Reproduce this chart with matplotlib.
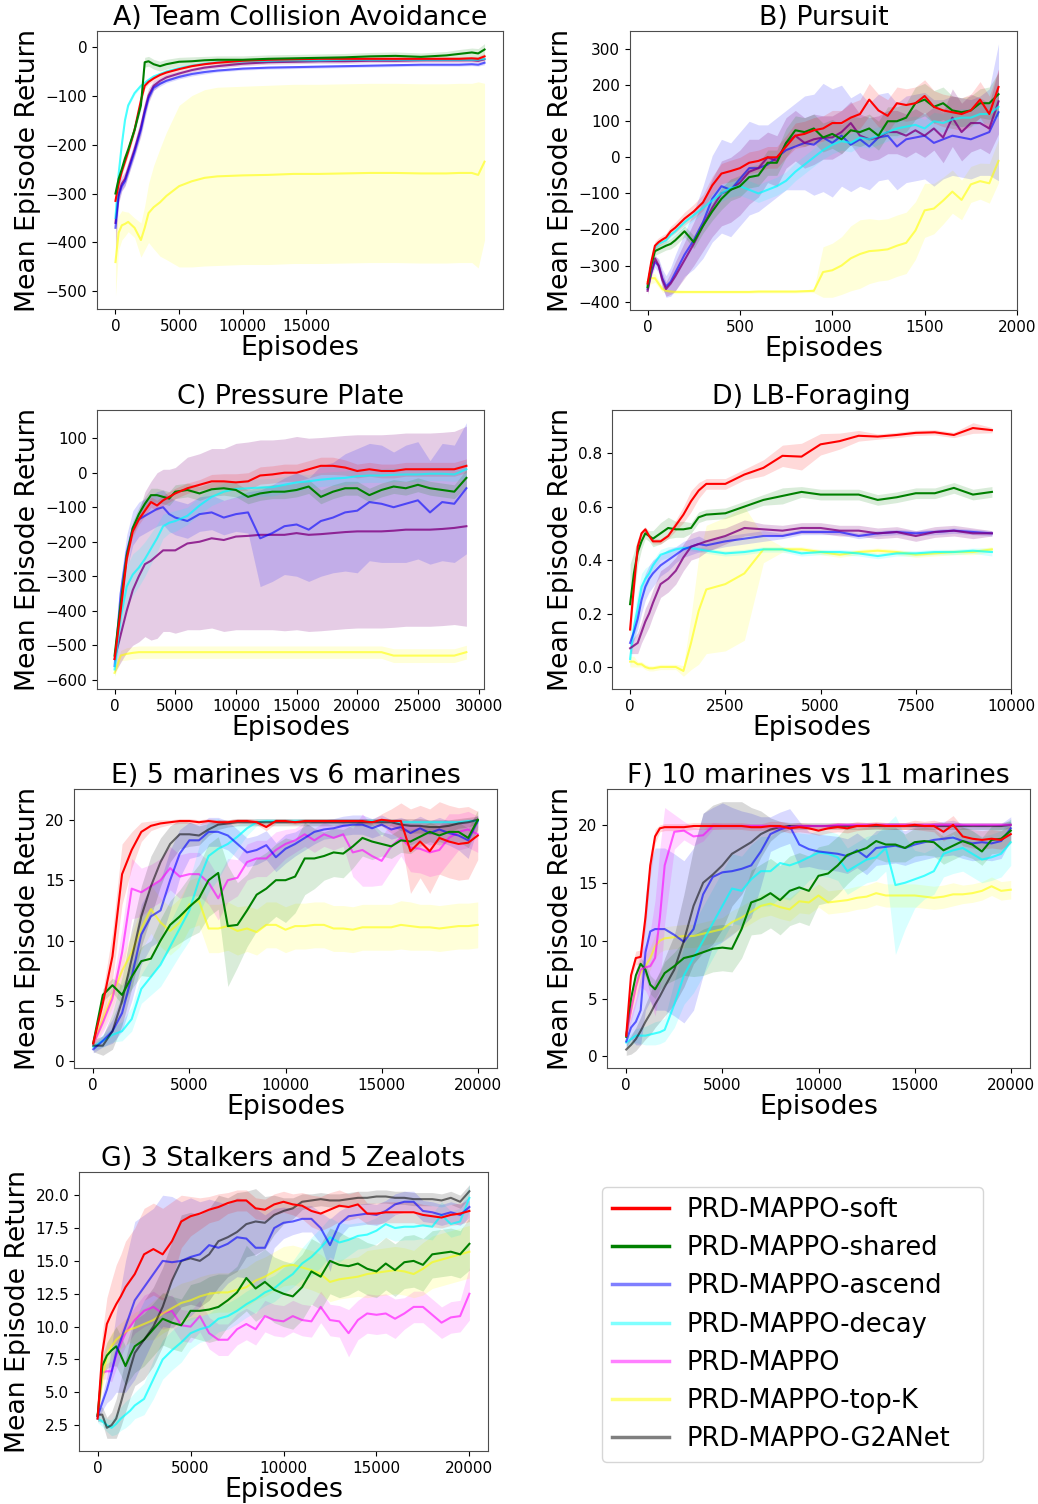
import numpy as np
import matplotlib
matplotlib.use('Agg')
import matplotlib.pyplot as plt
from matplotlib.lines import Line2D

W, H = 1038, 1504

# ---------------- Panel A: Team Collision Avoidance ----------------
A_x = [0, 250, 500, 750, 1000, 1500, 2000, 2300, 2600, 3000, 3500, 4000, 5000, 6000, 7000,
       8000, 10000, 12000, 14000, 16000, 18000, 20000, 22000, 24000, 26000, 27000, 28000, 28500, 29000]
A_soft = [-315, -280, -255, -235, -215, -170, -110, -80, -72, -65, -58, -53, -46, -40, -36,
          -33, -29, -27, -26, -25, -25, -25, -25, -25, -25, -25, -24, -25, -20]
A_soft_sd = [8, 8, 8, 8, 8, 8, 8, 6, 5, 5, 5, 5, 4, 4, 4, 4, 4, 4, 4, 4, 4, 4, 4, 4, 4, 4, 4, 5, 6]
A_shared = [-300, -270, -250, -228, -210, -170, -120, -32, -30, -36, -40, -36, -31, -30, -28,
            -27, -27, -25, -24, -23, -22, -20, -19, -21, -18, -15, -12, -14, -6]
A_shared_sd = [6, 6, 6, 6, 6, 6, 8, 10, 10, 10, 10, 10, 9, 9, 8, 8, 8, 8, 8, 8, 8, 8, 8, 8, 8, 9, 9, 10, 12]
A_ascend = [-370, -305, -285, -275, -255, -215, -170, -135, -105, -84, -76, -70, -62, -56, -52,
            -49, -45, -43, -42, -41, -40, -39, -38, -37, -37, -37, -36, -37, -33]
A_ascend_sd = [10, 10, 8, 8, 8, 8, 8, 6, 5, 5, 5, 4, 4, 4, 4, 3, 3, 3, 3, 3, 3, 3, 3, 3, 3, 3, 3, 3, 4]
A_decay = [-350, -260, -200, -150, -120, -95, -80, -74, -68, -61, -56, -51, -44, -39, -35,
           -32, -30, -29, -28, -28, -27, -27, -27, -27, -27, -27, -27, -27, -25]
A_decay_sd = [5, 5, 5, 5, 4, 4, 3, 3, 3, 3, 3, 3, 3, 2, 2, 2, 2, 2, 2, 2, 2, 2, 2, 2, 2, 2, 2, 2, 3]
A_prd = [-360, -300, -280, -270, -250, -210, -165, -130, -100, -80, -70, -63, -55, -48, -43,
         -40, -35, -32, -31, -30, -30, -29, -29, -28, -28, -28, -28, -29, -26]
A_prd_sd = [60, 20, 15, 15, 15, 15, 18, 18, 15, 10, 7, 6, 5, 4, 4, 4, 4, 4, 4, 4, 4, 4, 4, 4, 4, 4, 4, 4, 5]
A_topk = [-440, -380, -365, -362, -358, -370, -395, -370, -340, -328, -318, -305, -285, -275, -268,
          -265, -263, -262, -260, -260, -259, -258, -258, -259, -259, -258, -258, -262, -235]
A_topk_sd = [70, 35, 30, 25, 20, 20, 35, 45, 60, 85, 110, 130, 165, 175, 180,
             182, 182, 183, 183, 183, 183, 183, 183, 183, 183, 183, 183, 190, 160]
A_xticks = [0, 5000, 10000, 15000]

# ---------------- Panel B: Pursuit ----------------
B_x = [0, 20, 40, 60, 80, 100, 125, 150, 200, 250, 300, 350, 400, 450, 500, 550, 600, 650, 700,
       750, 800, 850, 900, 950, 1000, 1050, 1100, 1150, 1200, 1250, 1300, 1350, 1400, 1450, 1500,
       1550, 1600, 1650, 1700, 1750, 1800, 1850, 1900]
B_soft = [-350, -290, -245, -235, -228, -222, -205, -195, -170, -150, -125, -78, -45, -38, -30, -15, -10, 0,
          0, 30, 60, 65, 75, 80, 95, 95, 110, 120, 160, 130, 115, 150, 145, 150, 170, 140, 130, 125,
          120, 130, 160, 120, 195]
B_soft_sd = [10, 10, 12, 12, 12, 12, 14, 15, 18, 20, 22, 25, 28, 30, 30, 30, 30, 30,
             30, 30, 35, 35, 35, 35, 35, 35, 40, 40, 45, 45, 45, 45, 45, 45, 45, 45, 45, 45,
             45, 45, 50, 50, 50]
B_shared = [-360, -300, -260, -255, -250, -245, -240, -230, -205, -235, -190, -150, -115, -90, -80, -55, -50, -15,
            -15, 40, 75, 70, 80, 55, 65, 50, 75, 70, 80, 60, 100, 100, 110, 150, 160, 140, 150, 130,
            125, 130, 150, 150, 175]
B_shared_sd = [10, 10, 12, 12, 12, 12, 14, 15, 15, 18, 20, 25, 30, 30, 30, 30, 30, 35,
               35, 40, 40, 40, 40, 40, 40, 40, 40, 40, 40, 40, 40, 40, 40, 45, 45, 45, 45, 40,
               40, 40, 40, 45, 60]
B_decay = [-355, -300, -250, -240, -235, -230, -215, -205, -180, -160, -140, -120, -100, -85, -80, -90, -100, -90,
           -80, -65, -40, -20, 0, 20, 35, 45, 40, 55, 50, 60, 70, 80, 85, 90, 80, 100, 95, 105,
           110, 110, 120, 120, 140]
B_decay_sd = [10, 10, 10, 10, 10, 10, 12, 12, 15, 15, 18, 20, 22, 25, 25, 25, 25, 25,
              25, 25, 25, 25, 25, 25, 25, 25, 25, 25, 25, 25, 25, 25, 25, 25, 25, 25, 25, 25,
              25, 25, 25, 25, 30]
B_ascend = [-365, -320, -290, -300, -335, -358, -345, -320, -270, -230, -180, -115, -80, -90, -60, -30, -30, -20,
            0, 20, 30, 40, 35, 55, 40, 60, 35, 50, 30, 55, 60, 30, 50, 55, 60, 40, 50, 60,
            55, 50, 60, 70, 125]
B_ascend_sd = [10, 10, 15, 20, 25, 30, 40, 50, 60, 80, 100, 120, 130, 130, 130, 130, 120, 110,
               110, 110, 120, 130, 140, 150, 150, 140, 130, 130, 120, 120, 120, 120, 120, 120, 120, 120, 110, 110,
               110, 110, 110, 120, 190]
B_prd = [-370, -320, -280, -300, -340, -365, -350, -330, -285, -240, -190, -140, -100, -90, -70, -40, -30, 0,
         -10, 40, 60, 40, 50, 55, 55, 70, 95, 60, 50, 55, 70, 70, 60, 75, 60, 80, 55, 110,
         70, 95, 95, 80, 155]
B_prd_sd = [10, 10, 10, 15, 20, 20, 30, 40, 50, 60, 70, 80, 90, 90, 90, 90, 80, 70,
            70, 70, 70, 70, 70, 60, 60, 60, 60, 60, 60, 60, 60, 60, 60, 60, 60, 60, 70, 80,
            80, 80, 70, 70, 90]
B_topk = [-345, -335, -335, -350, -365, -370, -372, -373, -373, -373, -373, -373, -373, -373, -373, -373, -372, -372,
          -372, -372, -372, -371, -370, -318, -313, -300, -280, -268, -260, -258, -255, -245, -237, -203, -147, -142,
          -120, -95, -118, -75, -66, -72, -10]
B_topk_sd = [15, 15, 12, 10, 8, 6, 5, 5, 4, 4, 4, 4, 4, 4, 4, 4, 4, 4,
             4, 4, 4, 4, 5, 70, 75, 80, 90, 95, 90, 85, 85, 85, 85, 80, 75, 70, 65, 60,
             55, 50, 50, 55, 60]
B_xlim = (-95, 2000)

# ---------------- Panel C: Pressure Plate ----------------
C_x = [0, 500, 1000, 1500, 2000, 2500, 3000, 3500, 4000, 4500, 5000, 6000, 7000, 8000, 9000, 10000,
       11000, 12000, 13000, 14000, 15000, 16000, 17000, 18000, 19000, 20000, 21000, 22000, 23000,
       24000, 25000, 26000, 27000, 28000, 29000]
C_soft = [-540, -400, -250, -170, -135, -110, -85, -95, -80, -70, -60, -45, -35, -25, -25, -28,
          -25, -8, -5, 0, 0, 10, 20, 20, 15, 5, 10, 5, 5, 10, 10, 10, 10, 10, 20]
C_soft_sd = [20, 20, 20, 15, 15, 15, 15, 15, 15, 15, 15, 15, 15, 20, 22, 25,
             25, 25, 25, 25, 25, 25, 25, 25, 22, 20, 20, 20, 20, 20, 20, 20, 20, 20, 20]
C_shared = [-530, -380, -240, -160, -120, -90, -65, -65, -70, -75, -55, -50, -60, -48, -45, -50,
            -70, -60, -55, -55, -50, -40, -70, -55, -45, -45, -65, -50, -40, -45, -35, -45, -50, -55, -15]
C_shared_sd = [20, 20, 20, 20, 20, 20, 20, 20, 20, 20, 20, 20, 20, 20, 20, 20,
               20, 20, 20, 20, 20, 20, 20, 20, 20, 20, 20, 20, 20, 20, 20, 20, 20, 20, 25]
C_decay = [-570, -420, -330, -295, -275, -250, -220, -190, -155, -145, -140, -125, -95, -70, -55, -47,
           -45, -43, -42, -35, -28, -25, -20, -17, -15, -10, -8, -8, -6, -5, -5, -3, -3, -5, 10]
C_decay_sd = [20, 50, 60, 60, 55, 50, 45, 40, 35, 30, 30, 25, 25, 25, 25, 25,
              25, 25, 25, 25, 25, 20, 20, 20, 20, 20, 20, 20, 20, 20, 20, 20, 20, 20, 25]
C_ascend = [-560, -350, -230, -160, -135, -125, -115, -105, -100, -120, -130, -140, -120, -115, -130, -120,
            -115, -190, -175, -155, -150, -165, -140, -130, -115, -110, -85, -90, -100, -90, -80, -115, -85, -90, -45]
C_ascend_sd = [20, 40, 50, 50, 50, 50, 50, 50, 50, 50, 50, 50, 50, 50, 50, 50,
               60, 140, 140, 140, 150, 150, 160, 160, 170, 180, 170, 170, 160, 170, 170, 150, 170, 170, 190]
C_prd = [-540, -470, -400, -340, -300, -265, -255, -240, -225, -225, -225, -205, -200, -190, -195, -185,
         -183, -180, -180, -180, -175, -180, -178, -175, -172, -170, -170, -170, -168, -165, -165, -165, -163, -160, -155]
C_prd_sd = [40, 80, 120, 160, 190, 210, 230, 240, 235, 235, 240, 250, 255, 260, 265, 270,
            272, 275, 275, 278, 280, 280, 280, 280, 280, 280, 280, 280, 280, 280, 280, 280, 280, 280, 290]
C_topk = [-580, -530, -525, -522, -520, -520, -520, -520, -520, -520, -520, -520, -520, -520, -520, -520,
          -520, -520, -520, -520, -520, -520, -520, -520, -520, -520, -520, -520, -530, -530, -530, -530, -530, -530, -520]
C_topk_sd = [10, 15, 18, 18, 18, 18, 18, 18, 18, 18, 18, 18, 18, 18, 18, 18,
             18, 18, 18, 18, 18, 18, 18, 18, 18, 18, 18, 18, 20, 20, 20, 20, 20, 20, 20]

# ---------------- Panel D: LB-Foraging ----------------
D_x = [0, 100, 200, 300, 400, 500, 600, 800, 1000, 1200, 1400, 1600, 1800, 2000, 2500, 3000, 3500,
       4000, 4500, 5000, 5500, 6000, 6500, 7000, 7500, 8000, 8500, 9000, 9500]
D_soft = [0.14, 0.30, 0.45, 0.50, 0.515, 0.49, 0.47, 0.47, 0.49, 0.53, 0.57, 0.62, 0.66, 0.685,
          0.685, 0.72, 0.745, 0.79, 0.787, 0.833, 0.845, 0.865, 0.862, 0.868, 0.876, 0.878, 0.868, 0.894, 0.886]
D_soft_sd = [0.01, 0.01, 0.01, 0.01, 0.01, 0.01, 0.01, 0.01, 0.01, 0.02, 0.03, 0.04, 0.03, 0.02,
             0.02, 0.02, 0.03, 0.04, 0.05, 0.04, 0.03, 0.02, 0.01, 0.01, 0.01, 0.01, 0.01, 0.02, 0.01]
D_shared = [0.235, 0.35, 0.43, 0.47, 0.50, 0.49, 0.48, 0.50, 0.52, 0.515, 0.515, 0.52, 0.56, 0.57,
            0.575, 0.60, 0.625, 0.64, 0.655, 0.645, 0.645, 0.645, 0.625, 0.635, 0.65, 0.65, 0.67, 0.645, 0.655]
D_shared_sd = [0.15, 0.08, 0.05, 0.03, 0.02, 0.02, 0.03, 0.04, 0.04, 0.03, 0.03, 0.02, 0.02, 0.02,
               0.02, 0.02, 0.02, 0.03, 0.02, 0.02, 0.02, 0.02, 0.02, 0.02, 0.02, 0.02, 0.02, 0.02, 0.02]
D_ascend = [0.09, 0.13, 0.18, 0.25, 0.30, 0.33, 0.35, 0.38, 0.40, 0.42, 0.44, 0.45, 0.46, 0.455,
            0.47, 0.48, 0.49, 0.49, 0.505, 0.505, 0.505, 0.49, 0.50, 0.505, 0.50, 0.505, 0.51, 0.505, 0.50]
D_ascend_sd = [0.02, 0.03, 0.04, 0.05, 0.05, 0.05, 0.05, 0.04, 0.04, 0.03, 0.03, 0.03, 0.03, 0.02,
               0.02, 0.02, 0.02, 0.01, 0.01, 0.01, 0.01, 0.01, 0.01, 0.01, 0.01, 0.01, 0.01, 0.01, 0.01]
D_prd = [0.07, 0.08, 0.09, 0.13, 0.17, 0.20, 0.24, 0.31, 0.33, 0.36, 0.41, 0.45, 0.46, 0.47,
         0.49, 0.52, 0.515, 0.51, 0.52, 0.52, 0.51, 0.51, 0.50, 0.505, 0.49, 0.505, 0.51, 0.50, 0.50]
D_prd_sd = [0.02, 0.03, 0.04, 0.04, 0.05, 0.05, 0.05, 0.05, 0.05, 0.05, 0.05, 0.05, 0.05, 0.04,
            0.03, 0.03, 0.02, 0.02, 0.02, 0.02, 0.02, 0.02, 0.02, 0.02, 0.02, 0.02, 0.02, 0.02, 0.01]
D_decay = [0.03, 0.15, 0.22, 0.30, 0.33, 0.35, 0.38, 0.42, 0.43, 0.44, 0.445, 0.445, 0.44, 0.435,
           0.425, 0.43, 0.44, 0.44, 0.425, 0.43, 0.43, 0.425, 0.415, 0.425, 0.425, 0.43, 0.43, 0.435, 0.43]
D_decay_sd = [0.03, 0.05, 0.06, 0.05, 0.04, 0.03, 0.02, 0.02, 0.02, 0.01, 0.01, 0.01, 0.01, 0.01,
              0.01, 0.01, 0.01, 0.01, 0.01, 0.01, 0.01, 0.01, 0.01, 0.01, 0.01, 0.01, 0.01, 0.01, 0.015]
D_topk = [0.02, 0.02, 0.01, 0.01, 0.0, -0.005, -0.005, 0.0, 0.0, 0.0, -0.015, 0.09, 0.21, 0.29,
          0.31, 0.35, 0.44, 0.44, 0.44, 0.43, 0.42, 0.43, 0.435, 0.43, 0.42, 0.425, 0.43, 0.43, 0.44]
D_topk_sd = [0.02, 0.02, 0.01, 0.01, 0.01, 0.01, 0.01, 0.01, 0.01, 0.01, 0.02, 0.10, 0.20, 0.24,
             0.25, 0.25, 0.05, 0.01, 0.01, 0.01, 0.01, 0.01, 0.01, 0.01, 0.01, 0.01, 0.01, 0.01, 0.01]
D_xticks = [0, 2500, 5000, 7500, 10000]
D_xlim = (-475, 10000)

# ---------------- Panel E: 5 marines vs 6 marines ----------------
E_x = [0, 500, 1000, 1500, 2000, 2500, 3000, 3500, 4000, 4500, 5000, 5500, 6000, 6500, 7000, 7500,
       8000, 8500, 9000, 9500, 10000, 10500, 11000, 11500, 12000, 12500, 13000, 13500, 14000, 14500,
       15000, 15500, 16000, 16500, 17000, 17500, 18000, 18500, 19000, 19500, 20000]
E_soft = [1.5, 4.8, 8.7, 15.5, 17.5, 19.0, 19.5, 19.7, 19.8, 19.9,
          19.9, 19.8, 19.9, 19.8, 19.8, 19.9, 19.9, 19.8, 19.4, 19.9,
          19.9, 19.8, 19.9, 19.9, 19.9, 19.9, 19.9, 19.9, 19.9, 19.8,
          20.0, 19.9, 19.9, 17.4, 18.2, 17.4, 18.5, 18.2, 18.0, 18.1, 18.7]
E_soft_sd = [0.3, 1.0, 2.0, 2.5, 1.5, 0.8, 0.4, 0.3, 0.2, 0.2,
             0.2, 0.2, 0.2, 0.2, 0.2, 0.2, 0.2, 0.2, 0.3, 0.2,
             0.2, 0.2, 0.2, 0.2, 0.2, 0.2, 0.2, 0.2, 0.2, 0.2,
             0.5, 1.0, 1.5, 3.5, 3.0, 3.5, 3.0, 3.0, 3.0, 3.0, 2.0]
E_shared = [1.5, 5.5, 6.3, 5.5, 7.0, 8.3, 8.5, 10.0, 11.3, 12.0,
            12.8, 13.5, 15.0, 15.6, 11.2, 11.3, 12.5, 13.8, 14.3, 15.0,
            15.0, 15.3, 16.8, 16.8, 17.0, 17.3, 17.2, 17.8, 18.5, 18.2,
            18.0, 17.8, 18.3, 18.2, 18.6, 19.0, 18.7, 19.0, 19.0, 18.5, 20.0]
E_shared_sd = [0.3, 0.5, 0.6, 0.8, 1.0, 1.2, 1.5, 1.8, 2.0, 2.2,
               2.5, 2.8, 3.0, 3.0, 5.0, 3.5, 3.0, 3.0, 3.0, 3.0,
               3.5, 3.0, 3.0, 2.5, 2.0, 2.0, 2.0, 1.8, 1.5, 1.5,
               1.0, 1.0, 1.0, 1.0, 0.8, 0.8, 0.8, 0.8, 0.8, 0.8, 0.8]
E_ascend = [1.0, 1.7, 2.5, 4.0, 7.0, 10.5, 12.0, 12.5, 15.0, 17.2,
            18.3, 18.3, 19.0, 19.0, 18.7, 18.0, 17.3, 17.5, 17.9, 16.9,
            17.6, 18.0, 18.5, 19.0, 19.2, 19.3, 19.5, 19.6, 19.6, 19.3,
            19.6, 19.2, 19.4, 18.9, 19.3, 18.9, 19.2, 18.9, 18.7, 18.3, 19.9]
E_ascend_sd = [0.3, 0.5, 1.0, 1.5, 2.0, 2.5, 2.5, 2.5, 2.5, 2.0,
               1.5, 1.3, 1.2, 1.2, 1.2, 1.2, 1.2, 1.2, 1.2, 1.2,
               1.2, 1.0, 1.0, 1.0, 0.8, 0.8, 0.8, 0.8, 0.8, 0.8,
               0.8, 0.8, 0.8, 1.0, 1.0, 1.0, 1.0, 1.0, 1.2, 1.5, 0.5]
E_decay = [1.2, 1.7, 2.2, 2.5, 3.5, 6.0, 7.0, 8.0, 9.5, 11.0,
           12.5, 15.0, 17.0, 17.6, 18.0, 18.6, 19.3, 19.8, 19.9, 19.9,
           19.9, 19.9, 19.9, 19.9, 19.9, 19.9, 19.9, 19.9, 19.9, 19.9,
           19.9, 19.9, 19.8, 19.8, 19.8, 19.8, 19.8, 19.8, 19.8, 19.9, 19.9]
E_decay_sd = [0.3, 0.5, 0.6, 0.8, 1.0, 1.2, 1.5, 1.8, 2.0, 2.2,
              2.5, 2.8, 3.0, 2.5, 1.5, 1.0, 0.6, 0.3, 0.2, 0.2,
              0.2, 0.2, 0.2, 0.2, 0.2, 0.2, 0.2, 0.2, 0.2, 0.2,
              0.2, 0.2, 0.2, 0.2, 0.2, 0.2, 0.2, 0.2, 0.2, 0.2, 0.2]
E_prd = [1.4, 3.2, 5.2, 9.0, 14.3, 14.0, 14.5, 15.0, 16.0, 15.3,
         15.5, 15.5, 14.8, 13.5, 15.0, 15.2, 16.5, 16.8, 16.8, 17.5,
         18.0, 18.3, 18.8, 18.3, 18.8, 18.5, 18.8, 17.3, 17.5, 17.0,
         16.6, 17.8, 18.5, 17.7, 17.6, 17.3, 17.5, 18.5, 19.0, 19.2, 18.8]
E_prd_sd = [0.3, 0.8, 1.2, 2.0, 2.5, 2.0, 1.8, 1.8, 1.8, 1.8,
            1.8, 1.8, 1.8, 1.8, 1.8, 1.5, 1.5, 1.5, 1.5, 1.5,
            1.2, 1.0, 1.0, 1.0, 1.0, 1.0, 1.0, 2.0, 3.0, 2.5,
            2.0, 2.0, 1.5, 2.0, 2.0, 2.0, 2.0, 2.0, 1.5, 1.5, 1.5]
E_topk = [1.4, 3.5, 5.5, 7.5, 9.0, 11.0, 12.6, 11.5, 10.8, 11.5,
          13.0, 13.3, 11.0, 11.0, 11.2, 10.8, 11.0, 10.7, 11.3, 11.3,
          10.9, 11.2, 11.2, 11.3, 11.3, 11.0, 11.0, 10.9, 11.1, 11.1,
          11.1, 11.1, 11.3, 11.2, 11.1, 11.1, 11.0, 11.1, 11.2, 11.2, 11.3]
E_topk_sd = [0.3, 0.8, 1.0, 1.2, 1.5, 1.8, 2.0, 2.0, 2.0, 2.0,
             2.0, 2.0, 2.0, 2.0, 2.0, 2.0, 1.9, 1.9, 1.9, 1.9,
             1.9, 1.9, 1.9, 1.9, 1.9, 1.9, 1.9, 1.9, 1.9, 1.9,
             1.9, 1.9, 2.0, 2.0, 1.9, 1.9, 1.9, 1.9, 1.9, 1.9, 1.9]
E_g2a = [1.3, 1.3, 2.5, 5.0, 8.5, 12.0, 14.5, 16.5, 18.0, 18.8,
         18.8, 18.7, 19.2, 19.6, 19.7, 19.8, 19.8, 19.8, 19.8, 19.8,
         19.8, 19.8, 19.8, 19.8, 19.8, 19.8, 19.8, 19.8, 19.8, 19.8,
         19.8, 19.8, 19.6, 19.5, 19.5, 19.4, 19.4, 19.5, 19.7, 19.8, 20.0]
E_g2a_sd = [0.5, 0.8, 1.5, 2.0, 2.5, 2.5, 2.5, 2.0, 1.5, 1.2,
            1.0, 0.8, 0.5, 0.4, 0.3, 0.3, 0.3, 0.3, 0.3, 0.3,
            0.3, 0.3, 0.3, 0.3, 0.3, 0.3, 0.3, 0.3, 0.3, 0.3,
            0.3, 0.3, 0.5, 0.6, 0.6, 0.6, 0.6, 0.5, 0.4, 0.4, 0.3]
SMAC_xticks = [0, 5000, 10000, 15000, 20000]

# ---------------- Panel F: 10 marines vs 11 marines ----------------
F_x = [0, 250, 500, 750, 1000, 1250, 1500, 1750, 2000, 2500, 3000, 3500, 4000, 4500, 5000, 5500,
       6000, 6500, 7000, 7500, 8000, 8500, 9000, 9500, 10000, 10500, 11000, 11500, 12000, 12500,
       13000, 13500, 14000, 14500, 15000, 15500, 16000, 16500, 17000, 17500, 18000, 18500, 19000,
       19500, 20000]
F_soft = [1.8, 7.0, 8.5, 8.6, 12.0, 16.5, 19.0, 19.7, 19.8,
          19.8, 19.8, 19.9, 19.9, 19.9, 19.9, 19.9, 19.9, 19.8, 19.8,
          19.9, 19.9, 19.7, 19.8, 19.7, 19.5, 19.7, 19.8, 19.7, 19.9,
          19.9, 20.0, 19.9, 19.9, 19.9, 20.0, 19.9, 19.9, 19.4, 20.0,
          19.0, 18.8, 18.7, 18.8, 18.7, 19.2]
F_soft_sd = [0.3, 0.5, 0.6, 0.6, 1.0, 1.0, 0.6, 0.3, 0.3,
             0.3, 0.3, 0.3, 0.3, 0.3, 0.3, 0.3, 0.3, 0.3, 0.3,
             0.4, 0.4, 0.4, 0.4, 0.4, 0.4, 0.4, 0.4, 0.4, 0.4,
             0.3, 0.3, 0.3, 0.3, 0.3, 0.4, 0.4, 0.5, 0.8, 0.8,
             0.8, 0.8, 0.8, 0.8, 0.8, 0.8]
F_prd = [1.8, 4.0, 6.0, 7.5, 7.7, 7.8, 8.5, 12.0, 16.5,
         19.4, 19.5, 19.0, 19.1, 19.9, 19.9, 19.9, 19.9, 19.9, 19.9,
         19.9, 19.8, 19.8, 19.9, 19.9, 19.9, 19.9, 20.0, 20.0, 20.0,
         20.0, 20.0, 20.0, 20.0, 20.0, 20.0, 20.0, 20.0, 20.0, 20.0,
         20.0, 20.0, 20.0, 20.0, 20.0, 20.0]
F_prd_sd = [0.3, 1.0, 1.5, 1.5, 2.0, 3.0, 5.0, 6.0, 5.0,
            1.5, 0.8, 0.8, 0.5, 0.3, 0.2, 0.2, 0.2, 0.2, 0.2,
            0.2, 0.2, 0.2, 0.2, 0.2, 0.2, 0.2, 0.2, 0.2, 0.2,
            0.2, 0.2, 0.2, 0.2, 0.2, 0.2, 0.2, 0.2, 0.2, 0.2,
            0.2, 0.2, 0.2, 0.2, 0.2, 0.2]
F_shared = [1.7, 5.0, 7.0, 8.0, 7.5, 6.2, 5.8, 6.5, 7.2,
            7.8, 8.5, 8.7, 9.0, 9.3, 9.4, 9.3, 11.0, 13.3, 13.6,
            14.1, 13.5, 14.3, 14.6, 14.3, 15.6, 15.8, 16.5, 17.4, 17.7,
            18.0, 18.6, 18.3, 18.3, 18.0, 18.5, 18.6, 18.5, 17.8, 18.2,
            18.6, 18.3, 17.7, 18.7, 18.8, 19.5]
F_shared_sd = [0.3, 0.5, 0.5, 0.5, 0.6, 0.8, 0.8, 0.8, 1.0,
               1.2, 1.5, 1.8, 2.0, 2.0, 2.0, 2.0, 2.5, 2.8, 3.0,
               3.0, 3.0, 3.0, 3.0, 3.0, 2.5, 2.5, 2.5, 2.5, 2.0,
               1.8, 1.5, 1.5, 1.5, 1.2, 1.2, 1.2, 1.2, 1.2, 1.2,
               1.2, 1.2, 1.2, 1.2, 1.2, 1.0]
F_ascend = [1.3, 2.5, 3.0, 4.0, 9.0, 10.8, 11.0, 11.0, 11.0,
            10.5, 9.9, 11.0, 14.0, 15.5, 15.9, 16.0, 16.2, 16.5, 17.7,
            19.2, 19.6, 19.9, 18.3, 17.9, 17.7, 17.6, 17.5, 17.3, 17.8,
            17.2, 18.0, 18.1, 18.2, 18.0, 18.3, 18.5, 18.7, 18.8, 18.9,
            18.6, 18.4, 18.5, 18.4, 18.6, 19.7]
F_ascend_sd = [0.5, 1.0, 2.0, 3.0, 5.0, 6.0, 7.0, 7.0, 7.0,
               7.0, 7.0, 7.0, 7.0, 6.0, 6.0, 5.5, 5.0, 4.5, 3.0,
               1.5, 1.5, 1.5, 2.0, 1.5, 1.5, 1.5, 1.5, 1.5, 1.5,
               1.5, 1.5, 1.5, 1.5, 1.5, 1.5, 1.5, 1.5, 1.5, 1.5,
               1.5, 1.5, 1.5, 1.5, 1.5, 1.0]
F_g2a = [0.6, 1.0, 1.5, 2.2, 3.0, 3.7, 4.5, 5.2, 6.0,
         7.5, 10.0, 13.0, 15.0, 15.7, 16.5, 17.5, 18.0, 18.5, 19.2,
         19.6, 19.8, 19.9, 19.9, 19.9, 19.9, 19.9, 19.9, 19.9, 19.9,
         19.9, 19.9, 19.9, 19.9, 19.9, 19.9, 19.9, 19.9, 19.9, 19.9,
         19.9, 19.9, 19.9, 19.9, 19.9, 20.0]
F_g2a_sd = [0.5, 0.8, 1.0, 1.2, 1.5, 1.8, 2.0, 2.2, 2.5,
            3.0, 4.0, 5.0, 6.0, 6.0, 5.5, 4.5, 4.0, 3.0, 2.0,
            1.0, 0.5, 0.3, 0.3, 0.3, 0.3, 0.3, 0.3, 0.3, 0.3,
            0.3, 0.3, 0.3, 0.3, 0.3, 0.3, 0.3, 0.3, 0.3, 0.3,
            0.3, 0.3, 0.3, 0.3, 0.3, 0.3]
F_decay = [1.2, 1.5, 1.8, 1.8, 1.8, 1.9, 2.0, 2.1, 2.3,
           4.5, 7.0, 8.5, 10.0, 11.5, 13.0, 14.5, 14.3, 15.3, 16.0,
           16.0, 16.7, 16.5, 16.8, 17.2, 17.6, 17.5, 17.2, 16.0, 16.5,
           17.0, 17.2, 18.0, 14.8, 15.0, 15.3, 15.6, 16.0, 17.5, 17.8,
           18.0, 17.5, 17.0, 17.2, 17.5, 18.5]
F_decay_sd = [0.3, 0.5, 0.6, 0.7, 0.8, 0.9, 1.0, 1.0, 1.0,
              2.0, 2.5, 3.0, 3.0, 3.0, 3.0, 3.0, 3.0, 3.0, 3.0,
              3.0, 3.0, 3.0, 2.5, 2.0, 2.0, 2.0, 2.0, 2.0, 2.0,
              2.0, 2.0, 2.0, 6.0, 4.0, 2.5, 2.0, 2.0, 2.0, 2.0,
              2.0, 2.0, 2.0, 2.0, 2.0, 2.0]
F_topk = [1.8, 4.0, 6.0, 7.2, 7.8, 8.5, 9.5, 10.0, 10.2,
          10.3, 10.4, 10.4, 10.6, 10.8, 11.0, 11.6, 12.0, 12.5, 13.0,
          13.2, 12.9, 12.7, 13.4, 13.3, 13.9, 13.3, 13.4, 13.5, 13.7,
          13.8, 14.1, 13.9, 13.9, 13.9, 13.9, 13.8, 13.7, 13.8, 14.0,
          14.0, 14.1, 14.3, 14.7, 14.3, 14.4]
F_topk_sd = [0.3, 0.5, 0.8, 1.0, 1.0, 1.0, 1.0, 1.0, 1.0,
             1.0, 1.0, 1.0, 1.0, 1.0, 1.0, 1.0, 1.0, 1.0, 1.0,
             1.0, 1.0, 1.0, 1.0, 1.0, 1.0, 1.0, 1.0, 1.0, 1.0,
             1.0, 1.0, 1.0, 1.0, 1.0, 1.0, 1.0, 1.0, 1.0, 1.0,
             0.8, 0.8, 0.8, 0.8, 0.8, 0.8]

# ---------------- Panel G: 3 Stalkers and 5 Zealots ----------------
G_x = F_x
G_soft = [3.0, 8.0, 10.2, 11.0, 11.7, 12.3, 13.0, 13.5, 14.0,
          15.5, 15.9, 15.5, 16.5, 18.0, 18.4, 18.6, 18.9, 19.1, 19.4,
          19.6, 19.6, 19.0, 18.9, 19.3, 19.5, 19.3, 19.2, 18.8, 18.6,
          18.9, 19.2, 19.1, 19.3, 18.6, 18.6, 18.7, 18.7, 18.7, 18.7,
          18.5, 18.4, 18.3, 18.5, 18.6, 18.8]
G_soft_sd = [0.3, 1.5, 2.0, 2.5, 3.0, 3.2, 3.5, 3.5, 3.5,
             3.5, 3.5, 3.5, 3.0, 2.0, 1.5, 1.2, 1.0, 1.0, 0.8,
             0.8, 0.8, 0.8, 0.8, 0.8, 0.8, 0.8, 1.0, 1.2, 1.3,
             1.3, 1.2, 1.0, 1.0, 0.8, 0.8, 0.8, 0.8, 0.8, 0.8,
             0.8, 0.8, 0.8, 0.8, 0.8, 0.8]
G_ascend = [3.2, 4.2, 5.2, 6.5, 8.0, 9.0, 10.0, 11.0, 12.0,
            13.0, 14.0, 15.0, 14.9, 15.0, 15.3, 15.5, 16.2, 16.0, 16.3,
            16.8, 16.7, 16.0, 16.0, 17.5, 17.9, 18.0, 18.2, 18.2, 17.5,
            16.2, 17.8, 18.4, 18.5, 18.6, 18.5, 18.8, 19.3, 19.5, 19.5,
            18.8, 18.7, 18.5, 18.7, 18.5, 19.1]
G_ascend_sd = [0.3, 0.6, 1.0, 2.0, 3.0, 4.0, 5.0, 5.5, 6.0,
               5.5, 5.0, 5.0, 5.0, 4.5, 4.5, 4.0, 3.5, 3.5, 3.0,
               3.0, 3.0, 3.0, 2.5, 1.5, 1.2, 1.0, 1.0, 1.0, 1.2,
               2.0, 1.0, 0.8, 0.8, 0.8, 0.8, 0.8, 0.8, 0.8, 0.8,
               0.8, 0.8, 0.8, 0.8, 0.8, 0.8]
G_g2a = [3.3, 3.3, 2.3, 2.5, 3.0, 4.2, 5.5, 6.8, 8.0,
         9.0, 10.0, 11.5, 13.5, 15.0, 15.2, 15.0, 15.5, 16.5, 16.8,
         17.2, 17.8, 18.0, 17.9, 18.5, 18.8, 19.0, 19.5, 19.6, 19.7,
         19.6, 19.6, 19.7, 19.8, 19.8, 19.9, 19.9, 19.8, 19.8, 19.7,
         19.7, 19.7, 19.6, 19.8, 19.5, 20.3]
G_g2a_sd = [0.5, 0.6, 0.8, 1.0, 1.5, 1.8, 2.0, 2.2, 2.5,
            3.0, 3.0, 3.0, 3.0, 3.5, 3.5, 3.5, 3.5, 3.5, 3.0,
            3.0, 2.5, 2.5, 2.0, 1.5, 1.0, 0.8, 0.6, 0.5, 0.5,
            0.5, 0.5, 0.5, 0.5, 0.5, 0.5, 0.5, 0.5, 0.5, 0.5,
            0.5, 0.5, 0.5, 0.5, 0.5, 0.5]
G_decay = [3.0, 2.8, 2.5, 2.3, 2.6, 3.0, 3.3, 3.6, 4.0,
           4.5, 6.0, 7.5, 8.2, 8.8, 9.5, 9.8, 10.0, 10.6, 10.8,
           11.2, 11.7, 12.1, 12.6, 12.9, 13.5, 14.0, 14.8, 15.3, 16.0,
           16.8, 16.4, 16.6, 16.9, 17.0, 17.3, 17.8, 17.5, 17.6, 17.6,
           17.7, 17.6, 18.5, 17.8, 18.0, 19.8]
G_decay_sd = [0.3, 0.4, 0.5, 0.6, 0.8, 0.9, 1.0, 1.0, 1.0,
              1.2, 1.5, 1.5, 1.5, 1.5, 1.2, 1.0, 1.0, 1.0, 1.0,
              1.0, 1.0, 1.0, 1.0, 1.0, 1.0, 1.0, 1.2, 1.5, 1.5,
              1.5, 1.5, 1.2, 1.0, 1.0, 1.0, 1.0, 1.0, 1.0, 1.0,
              1.0, 1.0, 1.0, 1.0, 1.0, 1.0]
G_shared = [3.2, 7.0, 7.8, 8.2, 8.5, 7.8, 7.0, 7.8, 8.5,
            9.0, 9.8, 10.6, 10.3, 10.1, 11.2, 11.2, 11.3, 11.5, 12.0,
            12.6, 13.7, 12.9, 13.4, 12.8, 12.5, 12.3, 13.0, 14.2, 13.8,
            15.0, 14.7, 14.6, 14.8, 14.4, 14.2, 14.8, 14.3, 14.9, 15.0,
            14.7, 15.5, 15.6, 15.7, 15.5, 16.3]
G_shared_sd = [0.3, 0.8, 1.0, 1.2, 1.5, 1.5, 1.5, 1.8, 2.0,
               2.0, 2.0, 2.0, 2.0, 2.0, 2.0, 2.2, 2.5, 2.5, 2.0,
               2.0, 2.5, 2.5, 2.5, 2.5, 2.5, 2.5, 2.5, 2.5, 2.5,
               2.5, 2.5, 2.2, 2.0, 2.0, 2.0, 2.0, 2.0, 2.0, 2.0,
               2.0, 1.8, 1.8, 1.8, 1.8, 2.0]
G_topk = [3.2, 6.0, 7.8, 8.5, 9.0, 9.3, 9.6, 9.8, 9.9,
          10.2, 10.5, 11.0, 11.4, 11.8, 12.0, 12.3, 12.5, 12.6, 12.6,
          12.8, 13.0, 13.5, 13.8, 14.2, 14.6, 14.7, 14.5, 14.3, 14.0,
          13.4, 13.6, 13.7, 13.8, 14.0, 14.1, 14.2, 14.3, 14.2, 14.0,
          14.4, 14.9, 15.1, 15.3, 15.5, 15.7]
G_topk_sd = [0.3, 0.8, 1.0, 1.0, 1.0, 1.0, 1.0, 1.0, 1.2,
             1.2, 1.5, 1.5, 1.5, 1.5, 1.5, 1.5, 1.5, 1.5, 1.5,
             1.5, 1.5, 1.5, 1.5, 1.5, 1.5, 1.5, 1.5, 1.5, 1.5,
             1.5, 1.5, 1.5, 1.5, 1.8, 1.8, 1.8, 1.8, 1.8, 1.8,
             2.0, 2.0, 2.0, 2.0, 2.0, 2.0]
G_prd = [3.0, 6.5, 6.6, 6.6, 7.8, 8.7, 9.5, 10.0, 10.5,
         11.2, 11.5, 11.0, 11.2, 10.1, 10.0, 10.8, 9.5, 9.0, 9.0,
         9.8, 10.2, 9.8, 10.8, 10.5, 10.4, 10.8, 10.5, 10.4, 11.5,
         10.5, 10.4, 9.5, 10.5, 11.0, 10.9, 11.0, 10.6, 11.0, 11.5,
         11.5, 10.9, 10.3, 10.7, 10.8, 12.5]
G_prd_sd = [0.3, 0.5, 0.6, 0.8, 1.0, 1.0, 1.0, 1.0, 1.0,
            1.2, 1.2, 1.2, 1.2, 1.2, 1.2, 1.2, 1.2, 1.2, 1.2,
            1.2, 1.2, 1.2, 1.2, 1.2, 1.2, 1.2, 1.2, 1.2, 1.2,
            1.2, 1.2, 1.8, 1.5, 1.5, 1.5, 1.5, 1.5, 1.2, 1.2,
            1.2, 1.2, 1.2, 1.2, 1.2, 2.0]

LEGEND_LABELS = ['PRD-MAPPO-soft', 'PRD-MAPPO-shared', 'PRD-MAPPO-ascend', 'PRD-MAPPO-decay',
                 'PRD-MAPPO', 'PRD-MAPPO-top-K', 'PRD-MAPPO-G2ANet']

# style: (color, line alpha, legend alpha)
STY = {
    'soft': ('red', 1.0, 1.0),
    'shared': ('green', 1.0, 1.0),
    'ascend': ('blue', 0.6, 0.5),
    'decay': ('cyan', 0.7, 0.5),
    'prd': ('magenta', 0.6, 0.5),
    'purple': ('purple', 0.8, 0.8),
    'topk': ('yellow', 0.6, 0.5),
    'g2a': ('black', 0.55, 0.5),
}

LABEL_FS = 19.3

fig = plt.figure(figsize=(W / 100, H / 100), dpi=100)


def panel(box, title, x, series, xticks=None, xlim=None, band_alpha=0.15):
    l, r, t, b = box
    ax = fig.add_axes([l / W, 1 - b / H, (r - l) / W, (b - t) / H])
    x = np.asarray(x, dtype=float)
    for y, sd, key in series:
        c, a, _ = STY[key]
        y = np.asarray(y, dtype=float)
        sd = np.asarray(sd, dtype=float)
        ba = 0.2 if key == 'purple' else band_alpha
        ax.fill_between(x, y - sd, y + sd, color=c, alpha=ba, lw=0)
        ax.plot(x, y, color=c, alpha=a, lw=1.5)
    ax.set_title(title, fontsize=LABEL_FS, pad=4)
    ax.set_xlabel('Episodes', fontsize=LABEL_FS, labelpad=1)
    ax.set_ylabel('Mean Episode Return', fontsize=LABEL_FS, labelpad=3)
    ax.tick_params(labelsize=11)
    for s in ax.spines.values():
        s.set_edgecolor('0.3')
    if xticks is not None:
        ax.set_xticks(xticks)
    if xlim is not None:
        ax.set_xlim(*xlim)
    return ax


panel((97, 503, 31, 309), 'A) Team Collision Avoidance', A_x,
      [(A_topk, A_topk_sd, 'topk'), (A_prd, A_prd_sd, 'purple'), (A_decay, A_decay_sd, 'decay'),
       (A_ascend, A_ascend_sd, 'ascend'), (A_soft, A_soft_sd, 'soft'), (A_shared, A_shared_sd, 'shared')],
      xticks=A_xticks)
panel((630, 1017, 31, 310), 'B) Pursuit', B_x,
      [(B_topk, B_topk_sd, 'topk'), (B_ascend, B_ascend_sd, 'ascend'), (B_prd, B_prd_sd, 'purple'),
       (B_decay, B_decay_sd, 'decay'), (B_shared, B_shared_sd, 'shared'), (B_soft, B_soft_sd, 'soft')],
      xlim=B_xlim)
panel((97, 484, 410, 689), 'C) Pressure Plate', C_x,
      [(C_topk, C_topk_sd, 'topk'), (C_prd, C_prd_sd, 'purple'), (C_ascend, C_ascend_sd, 'ascend'),
       (C_decay, C_decay_sd, 'decay'), (C_shared, C_shared_sd, 'shared'), (C_soft, C_soft_sd, 'soft')])
panel((612, 1011, 410, 689), 'D) LB-Foraging', D_x,
      [(D_topk, D_topk_sd, 'topk'), (D_decay, D_decay_sd, 'decay'), (D_ascend, D_ascend_sd, 'ascend'),
       (D_prd, D_prd_sd, 'purple'), (D_shared, D_shared_sd, 'shared'), (D_soft, D_soft_sd, 'soft')],
      xticks=D_xticks, xlim=D_xlim)
panel((74, 497, 789, 1068), 'E) 5 marines vs 6 marines', E_x,
      [(E_topk, E_topk_sd, 'topk'), (E_prd, E_prd_sd, 'prd'), (E_decay, E_decay_sd, 'decay'),
       (E_ascend, E_ascend_sd, 'ascend'), (E_g2a, E_g2a_sd, 'g2a'), (E_shared, E_shared_sd, 'shared'),
       (E_soft, E_soft_sd, 'soft')], xticks=SMAC_xticks)
panel((607, 1030, 789, 1068), 'F) 10 marines vs 11 marines', F_x,
      [(F_topk, F_topk_sd, 'topk'), (F_decay, F_decay_sd, 'decay'), (F_ascend, F_ascend_sd, 'ascend'),
       (F_g2a, F_g2a_sd, 'g2a'), (F_shared, F_shared_sd, 'shared'), (F_prd, F_prd_sd, 'prd'),
       (F_soft, F_soft_sd, 'soft')], xticks=SMAC_xticks)
panel((79, 488, 1172, 1451), 'G) 3 Stalkers and 5 Zealots', G_x,
      [(G_prd, G_prd_sd, 'prd'), (G_topk, G_topk_sd, 'topk'), (G_decay, G_decay_sd, 'decay'),
       (G_shared, G_shared_sd, 'shared'), (G_g2a, G_g2a_sd, 'g2a'), (G_ascend, G_ascend_sd, 'ascend'),
       (G_soft, G_soft_sd, 'soft')], xticks=SMAC_xticks)

keys = ['soft', 'shared', 'ascend', 'decay', 'prd', 'topk', 'g2a']
handles = [Line2D([], [], color=STY[k][0], alpha=STY[k][2], lw=2.5) for k in keys]
fig.legend(handles, LEGEND_LABELS, loc='upper left',
           bbox_to_anchor=(602 / W, 1 - 1462 / H, 381 / W, 275 / H), mode='expand',
           borderaxespad=0, fontsize=18.5, frameon=True, labelspacing=0.47, handlelength=2.2,
           handletextpad=0.68)

fig.savefig('out.png', dpi=100)
